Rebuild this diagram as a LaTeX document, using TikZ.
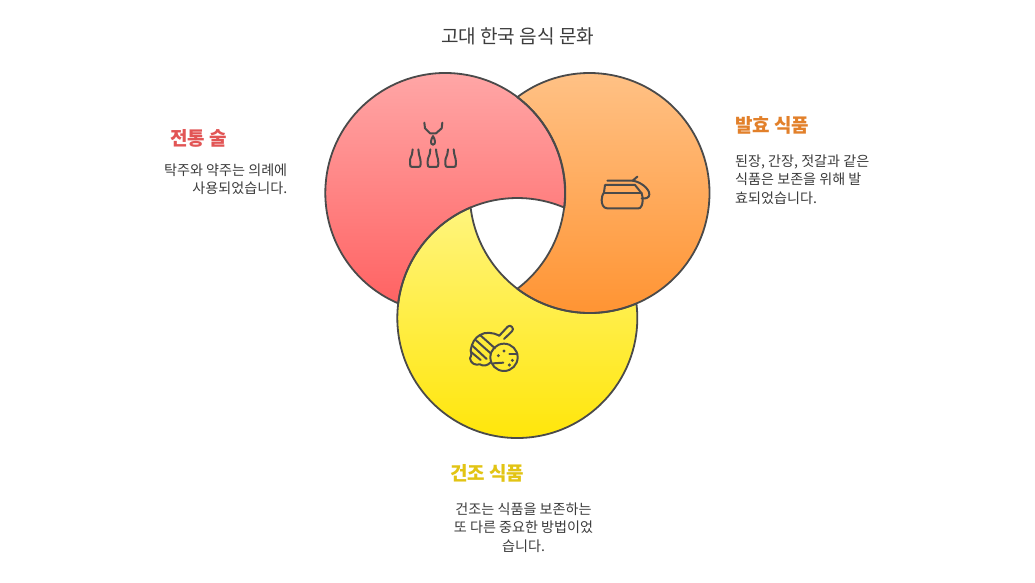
\documentclass[tikz,border=0pt]{standalone}
\usepackage{fontspec}
\setmainfont{Noto Sans CJK KR}
\definecolor{ink}{HTML}{4A4A4A}
\definecolor{txt}{HTML}{3C3C3C}
\tikzset{
  x=1pt,y=1pt,
  edge/.style={draw=ink,line width=1.8pt,line join=round},
  glyph/.style={draw=ink,line width=2pt,line cap=round,line join=round},
  body/.style={text=txt,font=\fontsize{14.1}{18.4}\selectfont,inner sep=0pt,anchor=center},
  head/.style={font=\fontsize{19}{23}\selectfont\bfseries,inner sep=0pt,anchor=center},
}
\def\circR{(445.3,389) circle (120)}
\def\circO{(589.5,389) circle (120)}
\def\circY{(517.3,264) circle (120)}
\def\regR{(445.3,389) ++(-6.99:120) arc[start angle=-6.99,end angle=246.9,radius=120] arc[start angle=172.99,end angle=66.89,radius=120] -- cycle}
\def\regO{(589.5,389) ++(127.02:120) arc[start angle=127.02,end angle=-127.02,radius=120] arc[start angle=-52.98,end angle=52.98,radius=120] -- cycle}
\def\regY{(517.3,264) ++(6.9:120) arc[start angle=6.9,end angle=-247.1,radius=120] arc[start angle=186.9,end angle=292.9,radius=120] -- cycle}
\begin{document}
\begin{tikzpicture}
\useasboundingbox[fill=white] (0,0) rectangle (1035,582);
% regions
\begin{scope}\clip \regO; \shade[top color={rgb,255:red,255;green,193;blue,133},bottom color={rgb,255:red,255;green,148;blue,51}] \circO; \end{scope}
\begin{scope}\clip \regR; \shade[top color={rgb,255:red,255;green,166;blue,166},bottom color={rgb,255:red,255;green,96;blue,96}] \circR; \end{scope}
\begin{scope}\clip \regY; \shade[top color={rgb,255:red,255;green,245;blue,130},bottom color={rgb,255:red,255;green,230;blue,10}] \circY; \end{scope}
\path[edge] \regO;
\path[edge] \regR;
\path[edge] \regY;
% cups icon
\begin{scope}[shift={(390,482)},x=.3333pt,y=-.3333pt]
\draw[glyph] (103,68) -- (105,85) -- (120,100) -- (138,100) -- (155,85) -- (157,68);
\draw[glyph] (129,108) .. controls (122,120) and (120,133) .. (129,134) .. controls (138,133) and (136,120) .. (129,108);
\foreach \u in {0,53,106}{
\draw[glyph,xshift=\u*.3333pt] (68,148) -- (66,163) .. controls (60,172) and (60,180) .. (60,192) .. controls (60,199) and (62,201) .. (67,201) -- (85,201) .. controls (90,201) and (92,199) .. (92,192) .. controls (92,180) and (90,172) .. (87,163) -- (85,148);
}
\end{scope}
% pot icon
\begin{scope}[shift={(590,417)},x=.3333pt,y=-.3333pt]
\draw[glyph] (52,47) -- (128,47) -- (142,35);
\draw[glyph] (128,47) .. controls (150,50) and (178,70) .. (178,88) .. controls (178,98) and (168,102) .. (155,100);
\draw[glyph] (45,60) -- (135,60) -- (155,85) .. controls (160,100) and (158,115) .. (155,122) .. controls (152,130) and (148,130) .. (145,130) -- (52,130) .. controls (40,130) and (35,118) .. (35,105) .. controls (35,95) and (38,88) .. (42,82) -- (45,60);
\draw[glyph] (42,84) -- (155,84);
\end{scope}
% cookie icon
\begin{scope}[shift={(460,267)},x=.3333pt,y=-.3333pt]
\draw[glyph] (118,62) -- (143,35) .. controls (148,30) and (152,32) .. (156,36) .. controls (160,40) and (160,44) .. (156,49) -- (132,72);
\draw[glyph] (118,62) .. controls (100,52) and (75,50) .. (60,60) .. controls (45,68) and (35,85) .. (32,105) .. controls (35,115) and (35,120) .. (30,130) .. controls (32,145) and (45,152) .. (60,148) .. controls (70,155) and (82,152) .. (92,142);
\draw[glyph] (60,60) -- (105,100);
\draw[glyph] (47,75) -- (92,115);
\draw[glyph] (37,92) -- (80,132);
\draw[glyph] (32,110) -- (62,135);
\draw[glyph] (132,127) circle (41);
\draw[glyph] (100,145) -- (130,143);
\draw[glyph] (148,118) -- (172,118);
\fill[ink] (115,122) circle (5);
\fill[ink] (132,108) circle (5);
\fill[ink] (157,136) circle (5);
\fill[ink] (148,150) circle (5);
\end{scope}
% texts
\node[text=txt,font=\fontsize{19.1}{23}\selectfont,inner sep=0pt] (title) at (517.7,546) {고대 한국 음식 문화};
\node[head,text={rgb,255:red,226;green,85;blue,85}] (h1) at (198.8,443.5) {전통 술};
\node[body,align=right,anchor=east] (t1) at (287.4,402.5) {탁주와 약주는 의례에\\사용되었습니다.};
\node[head,text={rgb,255:red,226;green,128;blue,42}] (h2) at (772.3,456.5) {발효 식품};
\node[body,align=left,anchor=west] (t2) at (735,402.5) {된장, 간장, 젓갈과 같은\\식품은 보존을 위해 발\\효되었습니다.};
\node[head,text={rgb,255:red,226;green,196;blue,20}] (h3) at (487.2,108.5) {건조 식품};
\node[body,align=center] (t3) at (523.5,54.5) {건조는 식품을 보존하는\\또 다른 중요한 방법이었\\습니다.};
\end{tikzpicture}
\end{document}
